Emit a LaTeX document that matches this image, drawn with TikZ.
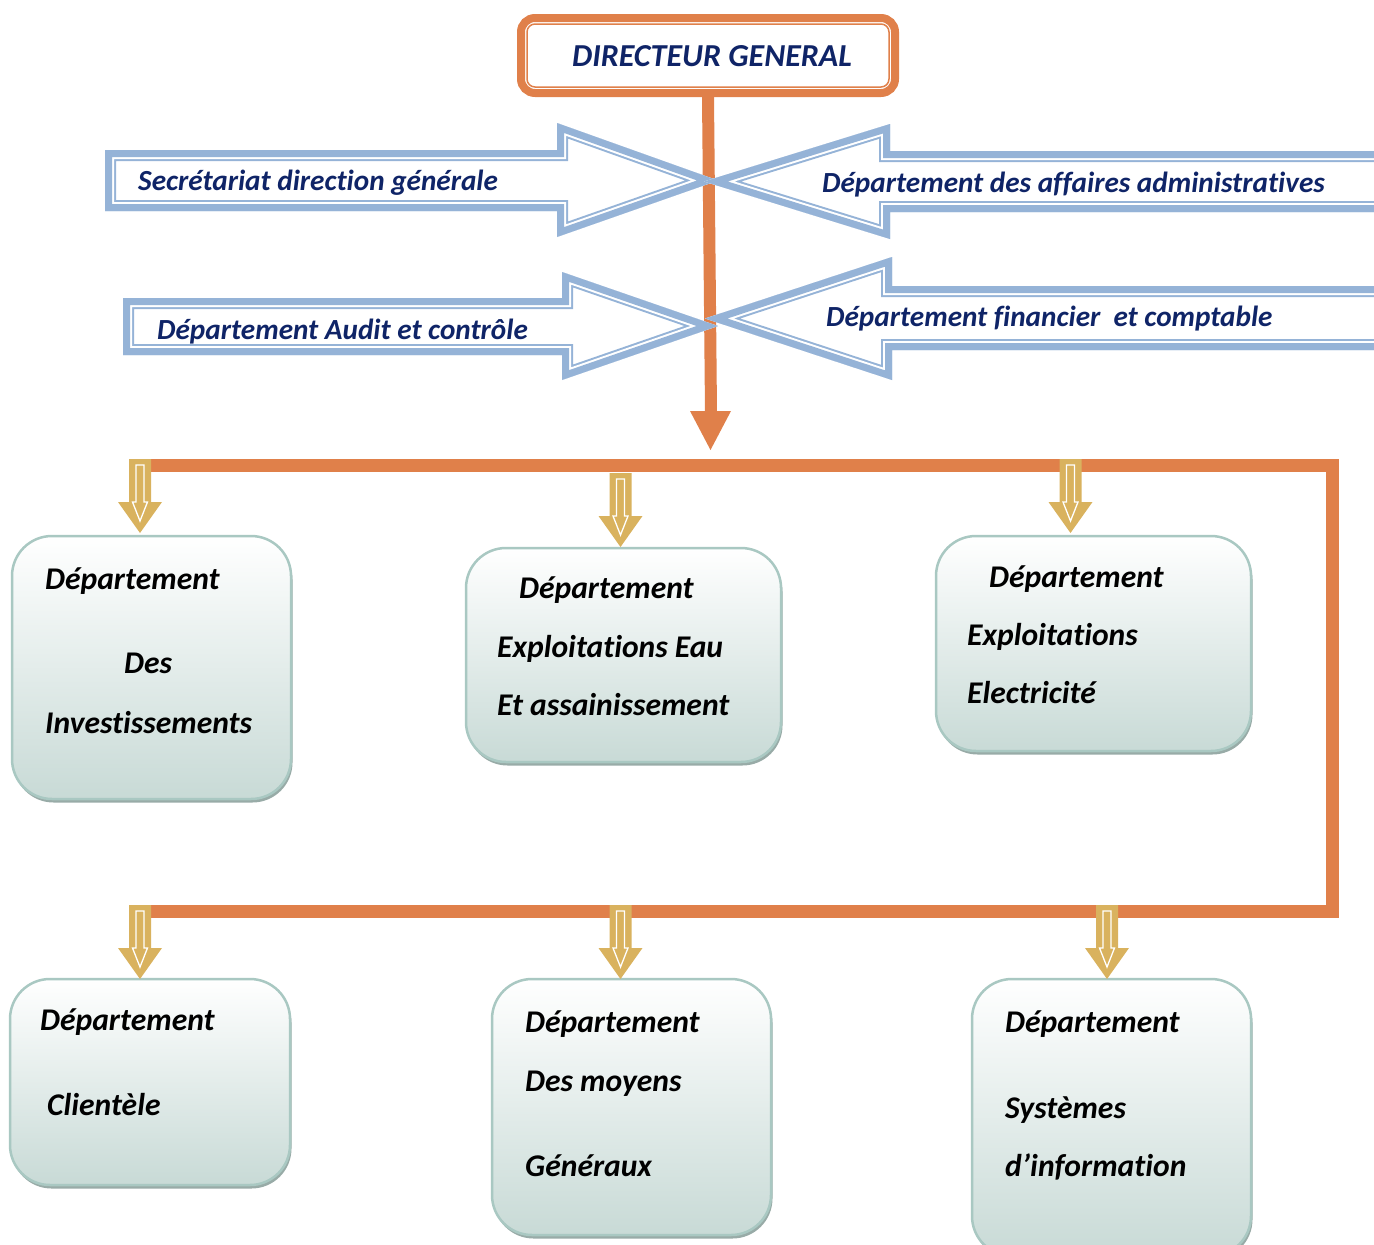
\documentclass[tikz,border=0pt]{standalone}
\usepackage{fontspec}
\setmainfont{Carlito}[Ligatures=NoCommon]
\usetikzlibrary{shadows}
\definecolor{orng}{HTML}{E0804A}
\definecolor{navy}{HTML}{0F2467}
\definecolor{bluar}{HTML}{95B3D7}
\definecolor{gold}{HTML}{D9B25E}
\definecolor{boxline}{HTML}{A9C8C2}
\definecolor{boxbot}{HTML}{C8DAD6}
\definecolor{shad}{HTML}{98ABA7}
\newcommand\bluearrow[1]{\begin{scope}\clip #1;
  \draw[bluar,line width=22pt,line join=miter,miter limit=20] #1;
  \draw[white,line width=18pt,line join=miter,miter limit=20] #1;
  \draw[bluar,line width=14pt,line join=miter,miter limit=20] #1;\end{scope}}
\begin{document}
\begin{tikzpicture}[x=1pt,y=-1pt,
  dept/.style={draw=boxline, line width=2.5pt, rounded corners=40pt, top color=white, bottom color=boxbot,
    drop shadow={shadow xshift=1.5pt, shadow yshift=-3.5pt, fill=shad, opacity=1}, inner sep=0pt},
  lbl/.style={anchor=base west, inner sep=0pt, font=\fontsize{31.6}{36}\selectfont\bfseries\itshape, text=black},
  blbl/.style={anchor=base west, inner sep=0pt, font=\fontsize{29.2}{33}\selectfont\bfseries\itshape, text=navy},
  bus/.style={draw=orng, line width=13pt, line join=miter},
  garrow/.pic={
    \fill[gold] (-11,0) -- (11,0) -- (11,43) -- (22,43) -- (0,74) -- (-22,43) -- (-11,43) -- cycle;
    \draw[white, line width=1.3pt, line join=miter] (-4,6) -- (4,6) -- (4,43) -- (7.5,43) -- (0,62) -- (-7.5,43) -- (-4,43) -- cycle;
  },
]
\useasboundingbox (0,0) rectangle (1374,1245);
\clip (0,0) rectangle (1374,1245);

% director box
\node[draw=orng, line width=8pt, rounded corners=14pt, minimum width=374pt, minimum height=75pt, fill=white,
  font=\fontsize{32}{36}\selectfont\bfseries\itshape, text=navy] (dg) at (708,55.5) {};
\draw[orng, line width=1.5pt, rounded corners=8pt] ([shift={(10,10)}]dg.north west) rectangle ([shift={(-10,-10)}]dg.south east);
\node[anchor=base west, inner sep=0pt, font=\fontsize{32}{36}\selectfont\bfseries\itshape, text=navy] (dgt) at (572,66) {DIRECTEUR GENERAL};

% main vertical line
\coordinate (ah) at (711,412);
\coordinate (hub) at (710.5,450);
\draw[orng, line width=12pt] (dg.south) -- (ah);
\fill[orng] (690,411) -- (731,411) -- (hub) -- cycle;

% blue arrows
\bluearrow{(105,150) -- (557,150) -- (557,123) -- (718,180.5) -- (557,237) -- (557,211) -- (105,211) -- cycle}
\bluearrow{(1400,151) -- (890,151) -- (890,124) -- (704,181.5) -- (890,239) -- (890,212) -- (1400,212) -- cycle}
\bluearrow{(123,298) -- (562,298) -- (562,272) -- (718,326) -- (562,380) -- (562,355) -- (123,355) -- cycle}
\bluearrow{(1400,286) -- (892,286) -- (892,257) -- (705,318.5) -- (892,380) -- (892,350) -- (1400,350) -- cycle}

\node[blbl] (sec) at (138,190) {Secrétariat direction générale};
\node[blbl] (adm) at (822,192) {Département des affaires administratives};
\node[blbl] (aud) at (157,339) {Département Audit et contrôle};
\node[blbl] (fin) at (826,326) {Département financier\ \ et comptable};

% buses
\coordinate (busL) at (140,465.5);
\coordinate (busR) at (1332.5,465.5);
\coordinate (bus2R) at (1332.5,911.5);
\coordinate (bus2L) at (140,911.5);
\draw[bus] (busL) -- (busR) -- (bus2R) -- (bus2L);

% boxes
\node[dept, minimum width=279pt, minimum height=263pt] (b1) at (151.5,667.5) {};
\node[dept, minimum width=315pt, minimum height=214pt] (b2) at (623.5,655) {};
\node[dept, minimum width=315pt, minimum height=215pt] (b3) at (1093.5,643.5) {};
\node[dept, minimum width=280pt, minimum height=206pt] (b4) at (150,1082) {};
\node[dept, minimum width=279pt, minimum height=256pt] (b5) at (631.5,1107) {};
\node[dept, minimum width=279pt, minimum height=277pt] (b6) at (1111.5,1117.5) {};

% gold arrows
\pic (g1) at (140,459) {garrow};
\pic (g2) at (620.5,473) {garrow};
\pic (g3) at (1070.5,459) {garrow};
\pic (g4) at (140,905) {garrow};
\pic (g5) at (620.5,905) {garrow};
\pic (g6) at (1107,905) {garrow};

% box texts
\node[lbl] (t11) at (45,589) {Département};
\node[lbl] (t12) at (124,673) {Des};
\node[lbl] (t13) at (45,733) {Investissements};
\node[lbl] (t21) at (519,598) {Département};
\node[lbl] (t22) at (497,657) {Exploitations Eau};
\node[lbl] (t23) at (497,715) {Et assainissement};
\node[lbl] (t31) at (989,587) {Département};
\node[lbl] (t32) at (967,645) {Exploitations};
\node[lbl] (t33) at (967,703) {Electricité};
\node[lbl] (t41) at (40,1030) {Département};
\node[lbl] (t42) at (47,1115) {Clientèle};
\node[lbl] (t51) at (525,1032) {Département};
\node[lbl] (t52) at (525,1091) {Des moyens};
\node[lbl] (t53) at (525,1176) {Généraux};
\node[lbl] (t61) at (1005,1032) {Département};
\node[lbl] (t62) at (1005,1118) {Systèmes};
\node[lbl] (t63) at (1005,1176) {d’information};
\end{tikzpicture}
\end{document}
